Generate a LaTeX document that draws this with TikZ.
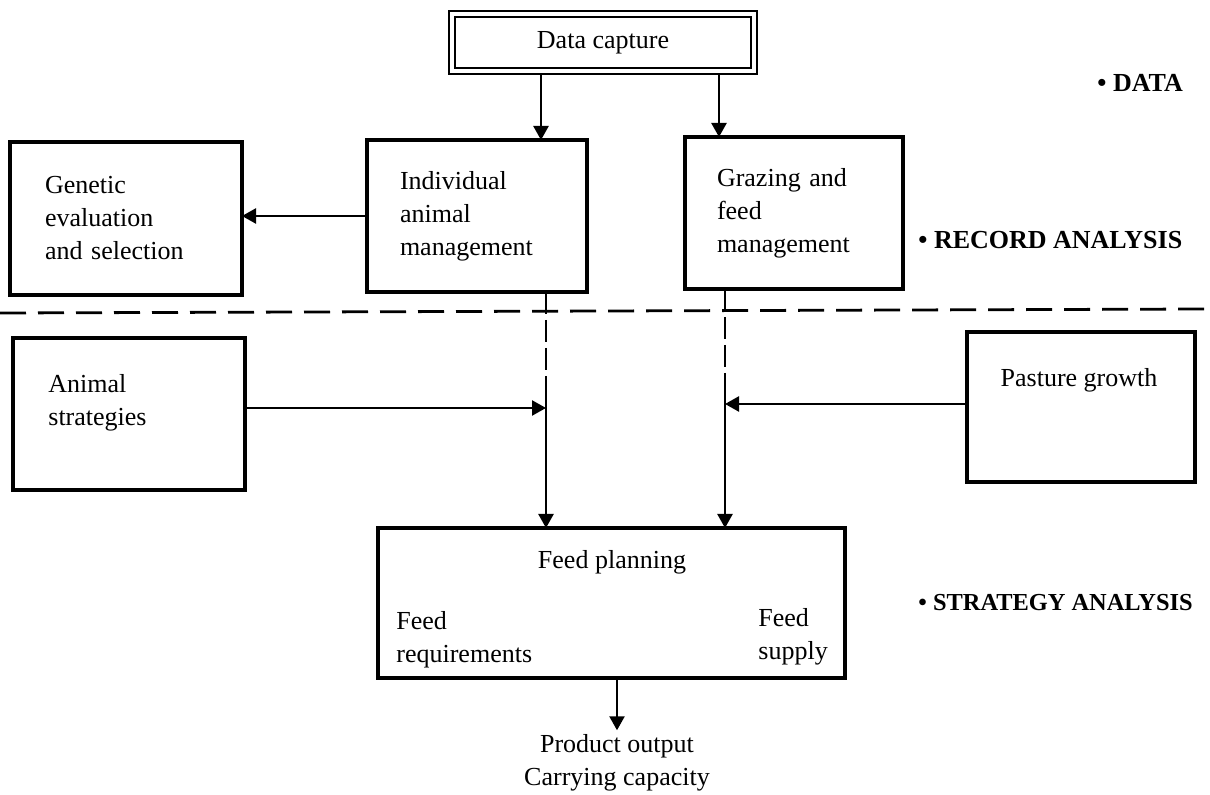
\documentclass[tikz,border=0pt]{standalone}
\usepackage{fontspec}
\setmainfont{Liberation Serif}
\usetikzlibrary{arrows.meta}
\begin{document}
\begin{tikzpicture}[x=0.5pt,y=-0.5pt,
  every node/.style={font=\fontsize{13pt}{16.5pt}\selectfont},
  box/.style={draw,line width=1.6pt,inner sep=0pt,outer sep=0pt},
  txt/.style={inner sep=0pt,anchor=west,align=left},
  arr/.style={line width=1.2pt,-{Triangle[length=7pt,width=7.5pt]}},
  vdash/.style={line width=1.2pt,dash pattern=on 11pt off 3pt},
  hdash/.style={line width=1.4pt,dash pattern=on 13pt off 6pt},
  lab/.style={font=\fontsize{13pt}{16.5pt}\selectfont\bfseries,anchor=west,inner sep=0pt}]
\useasboundingbox (0,0) rectangle (1210,795);

% boxes
\node[draw,double,line width=1.1pt,double distance=2pt,minimum width=151pt,minimum height=28.5pt,inner sep=0pt,outer sep=2pt] (dc) at (603,42.5) {Data capture};
\node[box,minimum width=116pt,minimum height=76.5pt,text width=81pt,inner xsep=17.5pt,align=left] (gen) at (126,218.5) {Genetic\\evaluation\\and selection};
\node[box,minimum width=110pt,minimum height=76pt,text width=77pt,inner xsep=16.5pt,align=left] (ind) at (477,216) {Individual\\animal\\management};
\node[box,minimum width=109pt,minimum height=76pt,text width=77pt,inner xsep=16pt,align=left] (graz) at (794,213) {Grazing and\\feed\\management};
\node[box,minimum width=116pt,minimum height=76pt] (anim) at (129,414) {};
\node[txt] (animt) at (48,403) {Animal\\strategies};
\node[box,minimum width=114pt,minimum height=75pt] (past) at (1081,407) {};
\node[inner sep=0pt] (pastt) at (1079,380) {Pasture growth};
\node[box,minimum width=233.5pt,minimum height=75pt] (feed) at (611.5,603) {};
\node[inner sep=0pt] (feedt) at (612,562) {Feed planning};
\node[txt] (freq) at (396,640) {Feed\\requirements};
\node[txt] (fsup) at (758,637) {Feed\\supply};
\node[align=center,inner sep=2pt] (out) at (617,763) {Product output\\Carrying capacity};

% section labels
\node[lab] (ldata) at (1097,83) {\textbullet\ DATA};
\node[lab] (lrec) at (918,240) {\textbullet\ RECORD ANALYSIS};
\node[lab,font=\fontsize{12.2pt}{15pt}\selectfont\bfseries] (lstr) at (918,603) {\textbullet\ STRATEGY ANALYSIS};

% helper coordinates
\coordinate (xa) at (541,0);
\coordinate (xb) at (719,0);
\coordinate (jl) at (546,378);
\coordinate (jr) at (725,378);
\coordinate (ya) at (0,408);
\coordinate (yp) at (0,404);
\coordinate (hl) at (0,313);
\coordinate (hr) at (1210,309);

% connectors
\draw[arr] (dc.south -| xa) -- (ind.north -| xa);
\draw[arr] (dc.south -| xb) -- (graz.north -| xb);
\draw[arr] (ind.west) -- (ind.west -| gen.east);
\draw[hdash] (hl) -- (hr);
\draw[vdash] (ind.south -| jl) -- (jl);
\draw[arr] (jl) -- (feed.north -| jl);
\draw[vdash] (graz.south -| jr) -- (jr);
\draw[arr] (jr) -- (feed.north -| jr);
\draw[arr] (anim.east |- ya) -- (jl |- ya);
\draw[arr] (past.west |- yp) -- (jr |- yp);
\draw[arr] (feed.south -| out.north) -- (out.north);
\end{tikzpicture}
\end{document}
